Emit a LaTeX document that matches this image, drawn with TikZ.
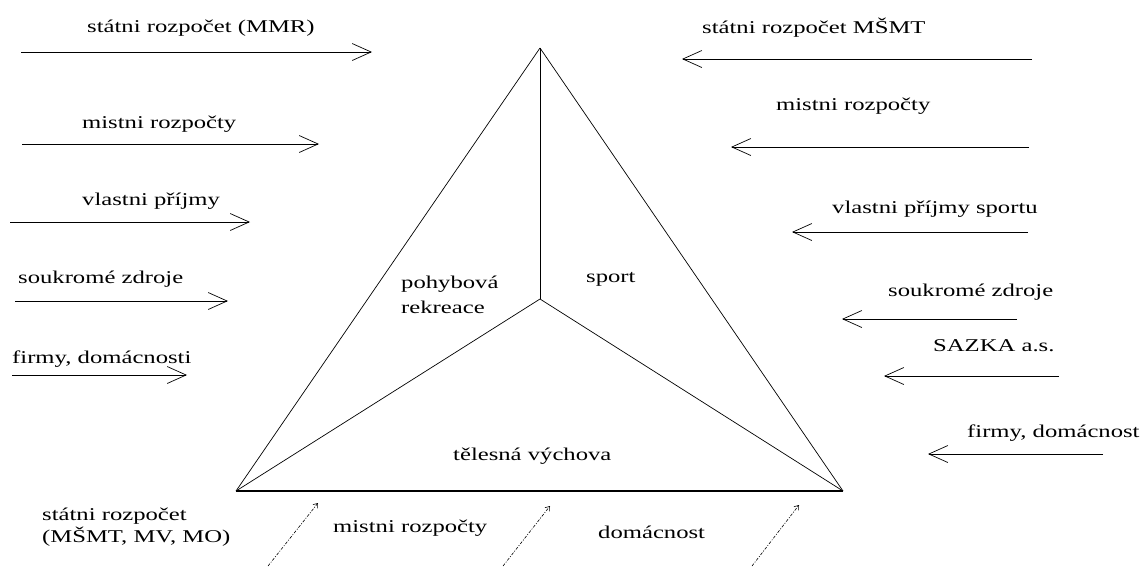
\documentclass[tikz,border=0pt]{standalone}
\usepackage{fontspec}
\setmainfont[FakeStretch=1.37]{Liberation Serif}
\usetikzlibrary{arrows.meta}

\begin{document}
\begin{tikzpicture}[
x=1pt, y=-1pt,
font=\fontsize{18}{22}\selectfont,
srctext/.style={inner sep=0pt, anchor=base west},
flow/.style={line width=0.7pt, -{Straight Barb[length=19pt, width=17pt]}},
share/.style={line width=0.6pt, dash pattern=on 3pt off 1.5pt on 1pt off 1.5pt, -{Straight Barb[length=4pt, width=6pt]}},
side/.style={line width=0.7pt}
]
\useasboundingbox (0,0) rectangle (1144,566);

\coordinate (apex) at (540,48);
\coordinate (bl) at (236,491);
\coordinate (br) at (843,491);
\coordinate (hub) at (540,299);

\draw[side] (apex) -- (bl);
\draw[side] (apex) -- (br);
\draw[line width=1.1pt] (bl) -- (br);
\draw[side] (apex) -- (hub);
\draw[side] (bl) -- (hub) -- (br);

\node[srctext, align=left] (rekreace) at (401,313) {pohybová\\[3pt]rekreace};
\node[srctext] (sport) at (586,282) {sport};
\node[srctext] (vychova) at (453,460) {tělesná výchova};

\node[srctext] (mmr) at (87,32) {státni rozpočet (MMR)};
\coordinate (mmr-a) at (21,52);
\coordinate (mmr-b) at (372,52);
\node[srctext] (lmistni) at (82,128) {mistni rozpočty};
\coordinate (lmistni-a) at (22,144);
\coordinate (lmistni-b) at (319,144);
\node[srctext] (lvlastni) at (82,205) {vlastni příjmy};
\coordinate (lvlastni-a) at (10,222);
\coordinate (lvlastni-b) at (250,222);
\node[srctext] (lsoukrome) at (18,283) {soukromé zdroje};
\coordinate (lsoukrome-a) at (15,301);
\coordinate (lsoukrome-b) at (228,301);
\node[srctext] (lfirmy) at (12,363) {firmy, domácnosti};
\coordinate (lfirmy-a) at (12,375);
\coordinate (lfirmy-b) at (187,375);

\draw[flow] (mmr-a) -- (mmr-b);
\draw[flow] (lmistni-a) -- (lmistni-b);
\draw[flow] (lvlastni-a) -- (lvlastni-b);
\draw[flow] (lsoukrome-a) -- (lsoukrome-b);
\draw[flow] (lfirmy-a) -- (lfirmy-b);

\node[srctext] (msmt) at (702,33) {státni rozpočet MŠMT};
\coordinate (msmt-a) at (1032,59);
\coordinate (msmt-b) at (682,59);
\node[srctext] (rmistni) at (776,110) {mistni rozpočty};
\coordinate (rmistni-a) at (1029,147);
\coordinate (rmistni-b) at (731,147);
\node[srctext] (rvlastni) at (832,213) {vlastni příjmy sportu};
\coordinate (rvlastni-a) at (1028,232);
\coordinate (rvlastni-b) at (792,232);
\node[srctext] (rsoukrome) at (888,296) {soukromé zdroje};
\coordinate (rsoukrome-a) at (1017,319);
\coordinate (rsoukrome-b) at (842,319);
\node[srctext] (sazka) at (933,351) {SAZKA a.s.};
\coordinate (sazka-a) at (1059,376);
\coordinate (sazka-b) at (884,376);
\node[srctext] (rfirmy) at (967,437) {firmy, domácnost};
\coordinate (rfirmy-a) at (1103,454);
\coordinate (rfirmy-b) at (928,454);

\draw[flow] (msmt-a) -- (msmt-b);
\draw[flow] (rmistni-a) -- (rmistni-b);
\draw[flow] (rvlastni-a) -- (rvlastni-b);
\draw[flow] (rsoukrome-a) -- (rsoukrome-b);
\draw[flow] (sazka-a) -- (sazka-b);
\draw[flow] (rfirmy-a) -- (rfirmy-b);

\node[srctext, align=left] (statni) at (42,542) {státni rozpočet\\(MŠMT, MV, MO)};
\node[srctext] (bmistni) at (333,532) {mistni rozpočty};
\node[srctext] (domacnost) at (598,538) {domácnost};

\coordinate (s1-a) at (268,566);
\coordinate (s1-b) at (318,503);
\coordinate (s2-a) at (503,566);
\coordinate (s2-b) at (550,506);
\coordinate (s3-a) at (752,566);
\coordinate (s3-b) at (799,505);

\draw[share] (s1-a) -- (s1-b);
\draw[share] (s2-a) -- (s2-b);
\draw[share] (s3-a) -- (s3-b);

\end{tikzpicture}
\end{document}
